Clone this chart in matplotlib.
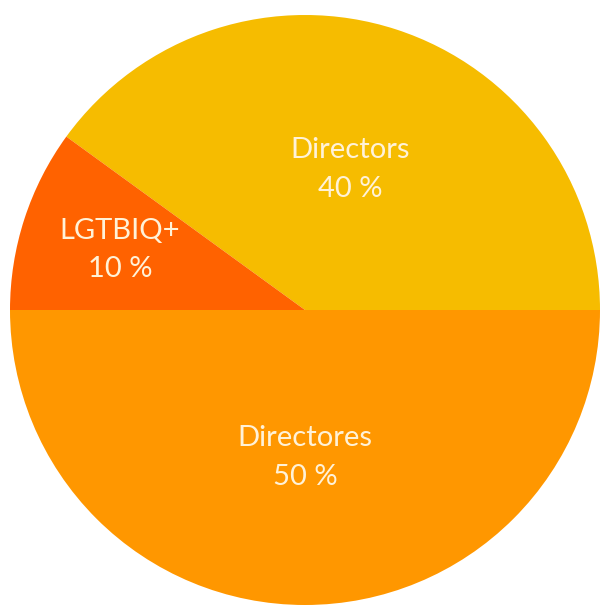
import numpy as np
import matplotlib
matplotlib.use("Agg")
import matplotlib.pyplot as plt

# Chart data
labels = ["Directors", "LGTBIQ+", "Directores"]
shares = [40, 10, 50]
colors = ["#F6BC00", "#FF6200", "#FF9700"]
# how far from the centre each label sits (fraction of radius)
label_dist = [0.50, 0.66, 0.50]

plt.rcParams["font.family"] = ["Lato", "DejaVu Sans"]

fig = plt.figure(figsize=(6.0, 6.05), dpi=100)
ax = fig.add_axes([0, 0, 1, 1])

wedges, _ = ax.pie(shares, colors=colors, startangle=0, counterclock=True,
                   radius=1.0, wedgeprops=dict(linewidth=0))

for w, lab, val, d in zip(wedges, labels, shares, label_dist):
    mid = np.deg2rad((w.theta1 + w.theta2) / 2)
    ax.text(d * np.cos(mid), d * np.sin(mid), f"{lab}\n{val} %",
            ha="center", va="center", fontsize=21, color="#FFF2D8",
            linespacing=1.6)

# circle is cropped by the frame, as in the source image
ax.set_xlim(-305 / 295, 295 / 295)
ax.set_ylim(-295 / 295, 310 / 295)
ax.set_aspect("equal")
ax.axis("off")

fig.savefig("out.png", dpi=100, facecolor="white")
